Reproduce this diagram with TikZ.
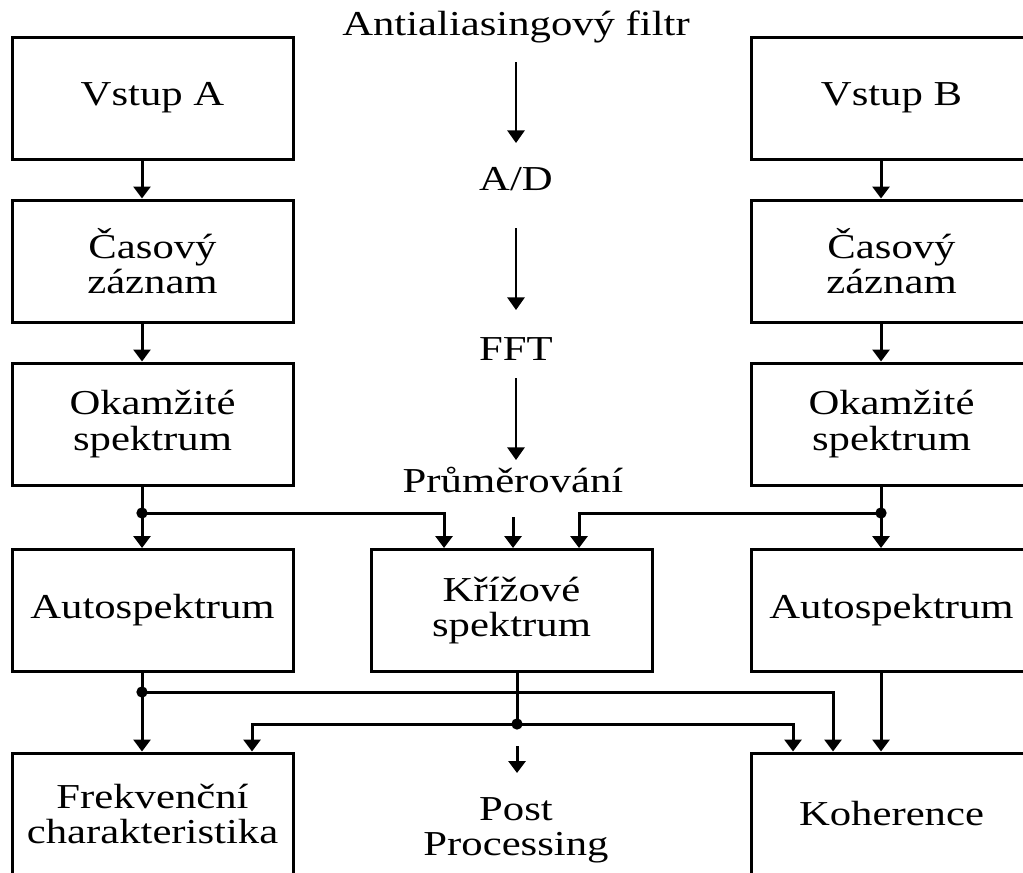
\documentclass[tikz,border=0pt]{standalone}
\usepackage{fontspec}
\setmainfont{Liberation Serif}[FakeStretch=1.22]
\usetikzlibrary{arrows.meta}
\newcommand{\diafont}{\fontsize{26.25pt}{26.5pt}\selectfont}
\begin{document}
\begin{tikzpicture}[x=0.75pt,y=-0.75pt,
  box/.style={draw, line width=2.25pt, minimum width=210.75pt, minimum height=91.5pt, inner sep=0pt, align=center, font=\diafont},
  lbl/.style={inner sep=0pt, align=center, font=\diafont},
  conn/.style={line width=2.25pt},
  arr/.style={line width=2.25pt, -{Triangle[length=9pt,width=12.75pt]}},
  marr/.style={line width=1.5pt, -{Triangle[length=9.5pt,width=13pt]}},
  dotn/.style={circle, fill, inner sep=0pt, minimum size=8.5pt}]
\useasboundingbox (0,0) rectangle (1023,872);
\clip (0,0) rectangle (1023,872);
\fill[white] (0,0) rectangle (1023,872);

% boxes, left column
\node[box] (vA) at (152.5,98) {Vstup A};
\node[box] (cA) at (152.5,261) {Časový\\záznam};
\node[box] (oA) at (152.5,424) {Okamžité\\spektrum};
\node[box] (aA) at (152.5,610.5) {Autospektrum};
\node[box] (fA) at (152.5,814) {Frekvenční\\charakteristika};
% right column
\node[box] (vB) at (891.5,98) {Vstup B};
\node[box] (cB) at (891.5,261) {Časový\\záznam};
\node[box] (oB) at (891.5,424) {Okamžité\\spektrum};
\node[box] (aB) at (891.5,610.5) {Autospektrum};
\node[box] (koh) at (891.5,814) {Koherence};
% middle
\node[box] (kr) at (511.5,610.5) {Křížové\\spektrum};

% middle labels
\node[lbl, anchor=base] (aaf) at (516,35) {Antialiasingový filtr};
\node[lbl, anchor=base] (ad) at (516,190) {A/D};
\node[lbl, anchor=base] (fft) at (516,360) {FFT};
\node[lbl, anchor=base] (pr) at (513,492) {Průměrování};
\node[lbl] (pp) at (516,830) {Post\\Processing};

% helper coordinates
\coordinate (xl) at (142,0);
\coordinate (xr) at (881,0);
\coordinate (xk1) at (444,0);
\coordinate (xk2) at (579,0);
\coordinate (xk0) at (513,0);
\coordinate (xm) at (517,0);
\coordinate (xf) at (252,0);
\coordinate (xh0) at (793,0);
\coordinate (xh1) at (833,0);
\coordinate (m1a) at (516,62);
\coordinate (m1b) at (516,143);
\coordinate (m2a) at (516,228);
\coordinate (m2b) at (516,310);
\coordinate (m3a) at (516,378);
\coordinate (m3b) at (516,460);
\coordinate (m4a) at (513,517);
\coordinate (ppa) at (517,746);
\coordinate (ppb) at (517,773);

% middle arrows
\draw[marr] (m1a) -- (m1b);
\draw[marr] (m2a) -- (m2b);
\draw[marr] (m3a) -- (m3b);
\draw[arr] (m4a) -- (kr.north -| xk0);
\draw[arr] (ppa) -- (ppb);

% left column arrows
\draw[arr] (vA.south -| xl) -- (cA.north -| xl);
\draw[arr] (cA.south -| xl) -- (oA.north -| xl);
\draw[arr] (oA.south -| xl) -- (aA.north -| xl);
\draw[arr] (aA.south -| xl) -- (fA.north -| xl);
% right column arrows
\draw[arr] (vB.south -| xr) -- (cB.north -| xr);
\draw[arr] (cB.south -| xr) -- (oB.north -| xr);
\draw[arr] (oB.south -| xr) -- (aB.north -| xr);
\draw[arr] (aB.south -| xr) -- (koh.north -| xr);

% junctions to cross spectrum
\node[dotn] (dA) at (142,513) {};
\node[dotn] (dB) at (881,513) {};
\draw[arr] (dA.center) -| (kr.north -| xk1);
\draw[arr] (dB.center) -| (kr.north -| xk2);

% bottom junctions
\node[dotn] (dA2) at (142,692) {};
\node[dotn] (dK) at (517,724) {};
\draw[arr] (dA2.center) -| (koh.north -| xh1);
\draw[conn] (kr.south -| xm) -- (dK.center);
\draw[arr] (dK.center) -| (fA.north -| xf);
\draw[arr] (dK.center) -| (koh.north -| xh0);
\end{tikzpicture}
\end{document}
